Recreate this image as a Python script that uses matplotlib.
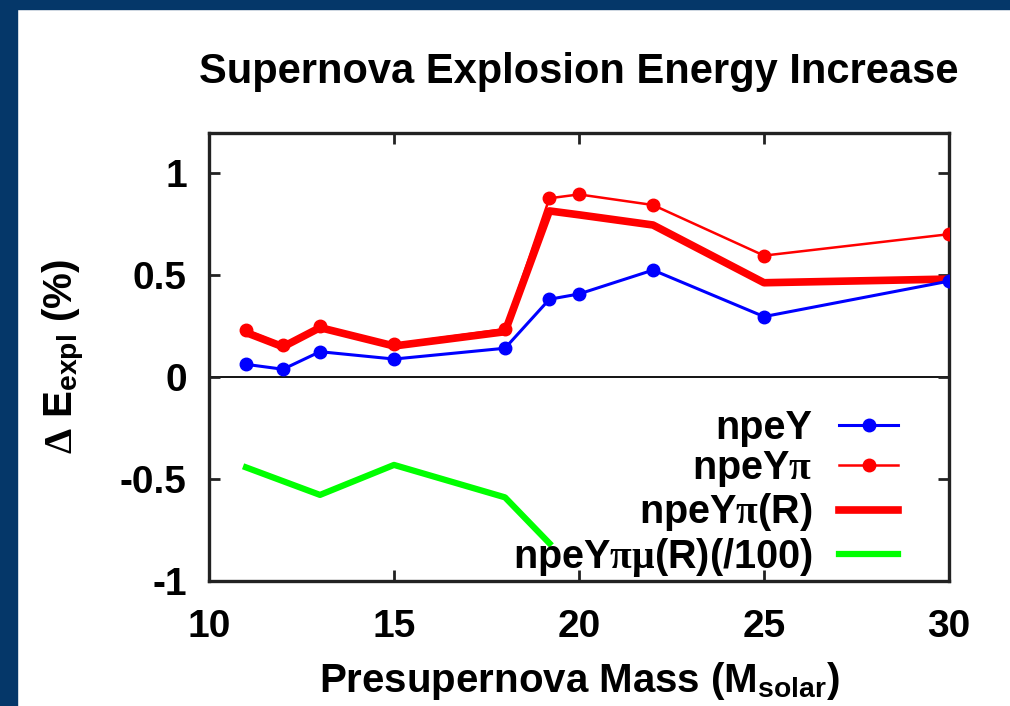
import matplotlib
matplotlib.use("Agg")
import matplotlib.pyplot as plt
from matplotlib.patches import Rectangle

# ─────────────────────────────────────────────────────────────────────────────
# Data
# ─────────────────────────────────────────────────────────────────────────────
mass = [11, 12, 13, 15, 18, 19.2, 20, 22, 25, 30]

npeY = [0.062, 0.038, 0.124, 0.088, 0.141, 0.381, 0.407, 0.524, 0.296, 0.47]
npeY_pi = [0.23, 0.157, 0.25, 0.16, 0.235, 0.876, 0.895, 0.843, 0.595, 0.70]
npeY_pi_R = [0.218, 0.148, 0.242, 0.152, 0.222, 0.814, 0.795, 0.745, 0.462, 0.48]

mass_mu = [11, 13, 15, 18, 19.2]
npeY_pi_mu_R = [-0.443, -0.578, -0.431, -0.59, -0.815]

x_ticks = [10, 15, 20, 25, 30]
y_ticks = [-1, -0.5, 0, 0.5, 1]
y_tick_labels = ["-1", "-0.5", "0", "0.5", "1"]

plt.rcParams["font.family"] = ["Liberation Sans", "DejaVu Sans"]
plt.rcParams["font.weight"] = "bold"
plt.rcParams["mathtext.fontset"] = "custom"
plt.rcParams["mathtext.rm"] = "Liberation Serif"
plt.rcParams["mathtext.it"] = "Liberation Serif:italic"
plt.rcParams["mathtext.bf"] = "Liberation Sans:bold"

NAVY = "#053769"

fig = plt.figure(figsize=(10.1, 7.06), dpi=100)
fig.patch.set_facecolor("white")
# navy frame of the slide (left and top edges)
fig.add_artist(Rectangle((0, 0), 17 / 1010, 1, transform=fig.transFigure,
                         color=NAVY, zorder=0))
fig.add_artist(Rectangle((0, 1 - 9 / 706), 1, 9 / 706, transform=fig.transFigure,
                         color=NAVY, zorder=0))

ax = fig.add_axes([209 / 1010, 1 - 581 / 706, 740 / 1010, 448 / 706])

ax.axhline(0, color="black", lw=1.3, zorder=1)
ax.plot(mass, npeY, color="#0000ff", lw=2.2, marker="o", ms=9,
        label="npeY", zorder=4)
ax.plot(mass, npeY_pi, color="#ff0000", lw=1.8, marker="o", ms=9,
        label=r"npeY$\mathrm{\pi}$", zorder=3)
ax.plot(mass, npeY_pi_R, color="#ff0000", lw=5.5,
        label=r"npeY$\mathrm{\pi}$(R)", zorder=3)
ax.plot(mass_mu, npeY_pi_mu_R, color="#00ff00", lw=4.5,
        label=r"npeY$\mathrm{\pi\mu}$(R)(/100)", zorder=3)

ax.set_xlim(10, 30)
ax.set_ylim(-1, 1.196)
ax.set_xticks(x_ticks)
ax.set_yticks(y_ticks)
ax.set_yticklabels(y_tick_labels)
ax.tick_params(direction="in", length=8, width=2, top=True, right=True,
               labelsize=28, color="#222222")
ax.tick_params(axis="x", pad=20)
ax.tick_params(axis="y", pad=16)
for sp in ax.spines.values():
    sp.set_linewidth(2.4)
    sp.set_color("#222222")

ax.set_title("Supernova Explosion Energy Increase", fontsize=30,
             fontweight="bold", pad=36)
ax.set_xlabel(r"Presupernova Mass (M$_{\mathbf{solar}}$)", fontsize=29,
              fontweight="bold", labelpad=11)
ax.set_ylabel(r"$\mathrm{\Delta}$ E$_{\mathbf{expl}}$ (%)", fontsize=29,
              fontweight="bold", labelpad=24)

ax.legend(loc="lower right", bbox_to_anchor=(0.931, 0.005), frameon=False,
          markerfirst=False, fontsize=28.5, handlelength=1.48,
          handletextpad=0.68, labelspacing=0.06, borderpad=0,
          borderaxespad=0)

plt.savefig("out.png", dpi=100, facecolor="white")
